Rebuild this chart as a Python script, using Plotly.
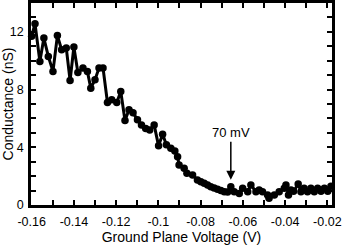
import plotly.graph_objects as go

voltage = [-0.1600, -0.1584, -0.1561, -0.1542, -0.1521, -0.1499, -0.1478, -0.1458,
           -0.1436, -0.1418, -0.1400, -0.1381, -0.1357, -0.1336, -0.1320, -0.1300,
           -0.1281, -0.1262, -0.1241, -0.1221, -0.1197, -0.1178, -0.1158, -0.1139,
           -0.1120, -0.1099, -0.1080, -0.1060, -0.1041, -0.1020, -0.0999, -0.0980,
           -0.0962, -0.0941, -0.0922, -0.0909, -0.0902, -0.0878, -0.0865, -0.0838,
           -0.0815, -0.0799, -0.0783, -0.0767, -0.0752, -0.0736, -0.0720, -0.0704,
           -0.0688, -0.0672, -0.0657, -0.0641, -0.0617, -0.0601, -0.0577, -0.0562,
           -0.0538, -0.0523, -0.0507, -0.0483, -0.0476, -0.0451, -0.0428, -0.0404,
           -0.0396, -0.0384, -0.0372, -0.0360, -0.0338, -0.0325, -0.0310, -0.0294,
           -0.0278, -0.0262, -0.0246, -0.0230, -0.0214, -0.0198, -0.0183]
conductance = [11.7, 12.57, 9.95, 11.57, 10.3, 9.26, 11.74, 10.76,
               10.88, 8.63, 10.95, 9.19, 9.49, 9.26, 8.1, 8.68,
               9.49, 9.49, 7.1, 7.3, 7.1, 7.87, 5.85, 6.6,
               6.4, 5.9, 5.55, 5.3, 5.2, 5.55, 4.1, 4.9,
               4.17, 3.94, 3.75, 3.35, 2.78, 2.55, 2.2, 2.08,
               1.74, 1.62, 1.5, 1.38, 1.27, 1.18, 1.09, 1.0,
               0.92, 0.9, 1.27, 0.92, 0.8, 1.16, 0.92, 1.39,
               0.92, 1.04, 0.92, 0.7, 0.46, 0.7, 0.92, 1.16,
               1.39, 0.7, 1.04, 0.95, 1.45, 0.92, 1.16, 0.92,
               1.16, 0.92, 1.16, 0.95, 1.16, 0.95, 1.3]

x_tickvals = [-0.16, -0.14, -0.12, -0.10, -0.08, -0.06, -0.04, -0.02]
x_ticktext = ["-0.16", "-0.14", "-0.12", "-0.1", "-0.08", "-0.06", "-0.04", "-0.02"]
y_tickvals = [0, 4, 8, 12]
y_ticktext = ["0", "4", "8", "12"]

annot_x = -0.0657
annot_y = 1.75
annot_text = "70 mV"

font = "Liberation Sans, Arial, Helvetica, sans-serif"

fig = go.Figure()
fig.add_trace(go.Scatter(
    x=voltage, y=conductance, mode="lines+markers",
    line=dict(color="black", width=3),
    marker=dict(color="black", size=7.5),
    showlegend=False, cliponaxis=False, hoverinfo="skip",
))

axis_common = dict(
    showline=True, linecolor="black", linewidth=2.5, mirror="allticks",
    ticks="inside", ticklen=5, tickwidth=1.5, tickcolor="black",
    showgrid=False, zeroline=False, automargin=False,
    tickfont=dict(family=font, size=12.5, color="black"),
)

fig.update_xaxes(
    range=[-0.1603, -0.0178], tickvals=x_tickvals, ticktext=x_ticktext,
    minor=dict(dtick=0.01, tick0=-0.16, ticks="inside", ticklen=5, tickwidth=1.5, tickcolor="black"),
    title=dict(text="Ground Plane Voltage (V)", font=dict(family=font, size=14, color="black"), standoff=5),
    ticklabelstandoff=3,
    **axis_common,
)
fig.update_yaxes(
    range=[0, 14], tickvals=y_tickvals, ticktext=y_ticktext,
    minor=dict(dtick=1, tick0=0, ticks="inside", ticklen=5, tickwidth=1.5, tickcolor="black"),
    title=dict(text="Conductance (nS)", font=dict(family=font, size=14, color="black"), standoff=4),
    ticklabelstandoff=2,
    **axis_common,
)

fig.add_annotation(
    x=annot_x, y=annot_y, text=annot_text, showarrow=True,
    ax=0, ay=-47, arrowhead=2, arrowsize=1.2, arrowwidth=1.5, arrowcolor="black",
    font=dict(family=font, size=13, color="black"),
)

fig.update_layout(
    width=345, height=246,
    margin=dict(l=31, r=13, t=3, b=41),
    paper_bgcolor="white", plot_bgcolor="white",
)

fig.write_html("out.html", config={"displayModeBar": False},
               post_script="document.body.style.margin='0';document.body.style.overflow='hidden';")
